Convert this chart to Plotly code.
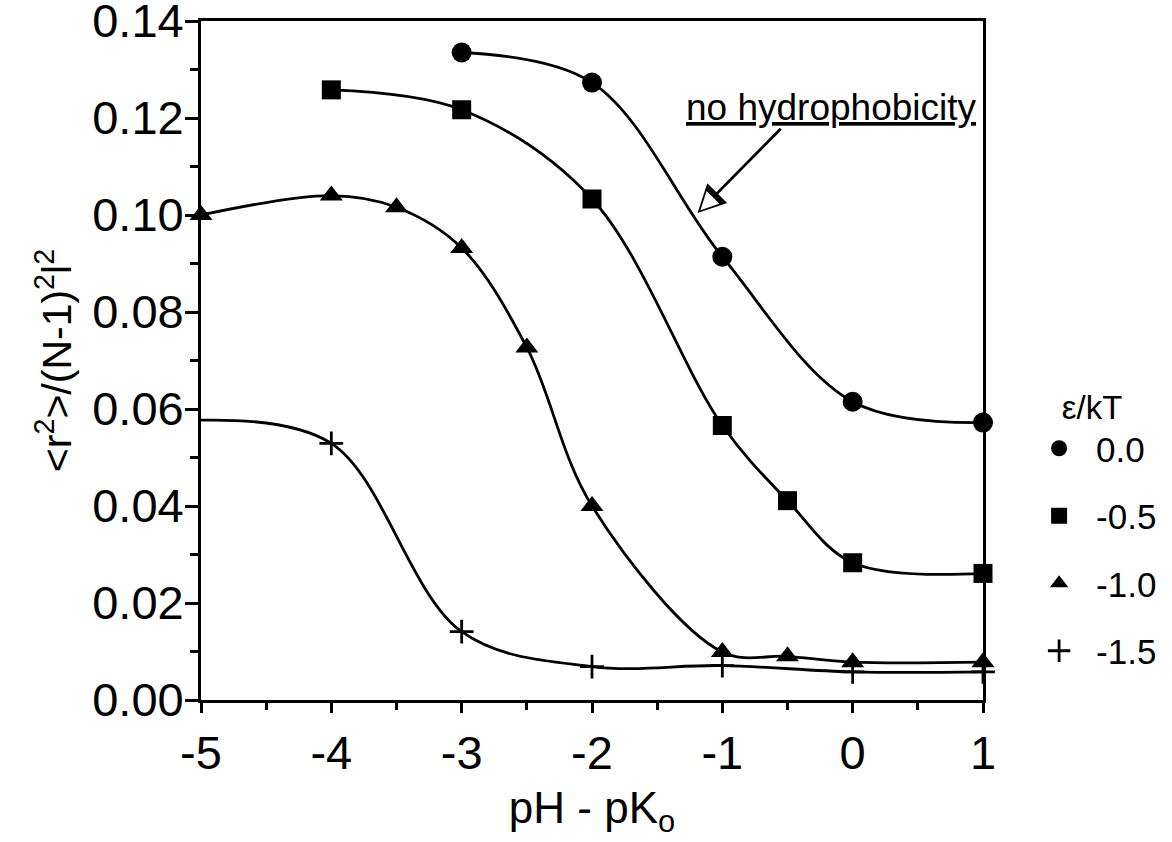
import plotly.graph_objects as go

# ---- data ----
x_e00 = [-3, -2, -1, 0, 1]
y_e00 = [0.1335, 0.1273, 0.0914, 0.0615, 0.0572]

x_e05 = [-4, -3, -2, -1, -0.5, 0, 1]
y_e05 = [0.1258, 0.1217, 0.1033, 0.0566, 0.0411, 0.0283, 0.0261]

x_e10 = [-5, -4, -3.5, -3, -2.5, -2, -1, -0.5, 0, 1]
y_e10 = [0.1000, 0.1040, 0.1016, 0.0932, 0.0727, 0.0400, 0.0099, 0.0090, 0.0078, 0.0078]

# curve starts at the left axis (no marker there); markers from -4 on
x_e15 = [-5, -4, -3, -2, -1, 0, 1]
y_e15 = [0.0577, 0.0529, 0.0141, 0.0069, 0.0071, 0.0058, 0.0058]
marked_e15 = [False, True, True, True, True, True, True]

labels = ["0.0", "-0.5", "-1.0", "-1.5"]
x_ticks = [-5, -4, -3, -2, -1, 0, 1]
y_ticks = [0.00, 0.02, 0.04, 0.06, 0.08, 0.10, 0.12, 0.14]

FONT = "Liberation Sans, Arial, Helvetica, sans-serif"
LW = 2.8

series = [
    (x_e00, y_e00, None, "circle", 20, labels[0]),
    (x_e05, y_e05, None, "square", 19, labels[1]),
    (x_e10, y_e10, None, "triangle-up", 20, labels[2]),
    (x_e15, y_e15, marked_e15, "cross-thin", 17, labels[3]),
]

fig = go.Figure()
for i, (xs, ys, mask, sym, size, name) in enumerate(series):
    fig.add_trace(go.Scatter(
        x=xs, y=ys, mode="lines",
        line=dict(color="black", width=LW, shape="spline", smoothing=1.0),
        showlegend=False, hoverinfo="skip", cliponaxis=False,
    ))
    if mask is None:
        mx, my = xs, ys
    else:
        mx = [a for a, m in zip(xs, mask) if m]
        my = [b for b, m in zip(ys, mask) if m]
    fig.add_trace(go.Scatter(
        x=mx, y=my, mode="markers", name=name,
        legendgroup=f"g{i}",
        marker=dict(symbol=sym, size=size, color="black",
                    line=dict(color="black", width=LW if sym == "cross-thin" else 0)),
        cliponaxis=False,
    ))

axis_common = dict(
    showline=True, linecolor="black", linewidth=LW, mirror=True,
    ticks="outside", tickcolor="black", tickwidth=LW,
    showgrid=False, zeroline=False, ticklabeloverflow="allow",
    tickfont=dict(family=FONT, size=47, color="black"),
)

fig.update_xaxes(
    range=[-5, 1], tickvals=x_ticks, ticktext=[str(v) for v in x_ticks],
    ticklen=10,
    minor=dict(dtick=0.5, ticks="outside", ticklen=7, tickcolor="black", tickwidth=LW, showgrid=False),
    title=dict(text="pH - pK<sub>o</sub>", font=dict(family=FONT, size=44, color="black"), standoff=14),
    **axis_common,
)
fig.update_yaxes(
    range=[0, 0.14], tickvals=y_ticks, ticktext=[f"{v:.2f}" for v in y_ticks],
    ticklen=13, ticklabelstandoff=-8,
    minor=dict(dtick=0.01, ticks="outside", ticklen=8, tickcolor="black", tickwidth=LW, showgrid=False),
    title=dict(text="&lt;r<sup>2</sup>&gt;/(N-1)<sup>2</sup>l<sup>2</sup>",
               font=dict(family=FONT, size=41, color="black"), standoff=8),
    **axis_common,
)

# annotation "no hydrophobicity" with hollow arrow
fig.add_annotation(
    x=-1.19, y=0.1004, xref="x", yref="y",
    ax=-0.54, ay=0.1181, axref="x", ayref="y",
    text="", showarrow=True, arrowhead=2, arrowsize=2.0, arrowwidth=2.8,
    arrowcolor="black",
)
fig.add_annotation(
    x=-1.19, y=0.1004, xref="x", yref="y",
    ax=-1.12, ay=0.1023, axref="x", ayref="y",
    text="", showarrow=True, arrowhead=2, arrowsize=3.6, arrowwidth=1.0,
    arrowcolor="white", standoff=4,
)
fig.add_annotation(
    x=-0.165, y=0.1175, xref="x", yref="y",
    text="<u>no hydrophobicity</u>", showarrow=False,
    xanchor="center", yanchor="bottom",
    font=dict(family=FONT, size=37, color="black"),
)

fig.update_layout(
    width=1172, height=842,
    margin=dict(l=201, r=189, t=21, b=142, autoexpand=False),
    paper_bgcolor="white", plot_bgcolor="white",
    font=dict(family=FONT, color="black"),
    legend=dict(
        x=1.05, y=0.477, xanchor="left", yanchor="top",
        itemwidth=64,
        title=dict(text="ε/kT", side="top center", font=dict(family=FONT, size=33, color="black")),
        font=dict(family=FONT, size=35, color="black"),
        tracegroupgap=19, bgcolor="rgba(0,0,0,0)",
    ),
)

fig.write_html("out.html")
